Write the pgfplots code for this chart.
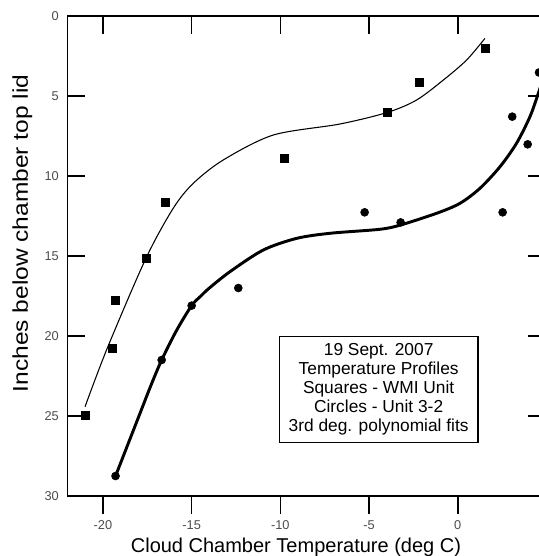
\documentclass[border=0pt]{standalone}
\usepackage{fontspec}
\setmainfont{Liberation Sans}
\usepackage{pgfplots}
\pgfplotsset{compat=1.18}

% measured data (squares = WMI unit, circles = unit 3-2)
\pgfplotstableread{
x y
-21.01 24.98
-19.49 20.77
-19.29 17.75
-17.58 15.15
-16.49 11.64
-9.78 8.90
-3.95 6.02
-2.15 4.15
1.57 2.02
}\squares
\pgfplotstableread{
x y
-19.29 28.75
-16.69 21.50
-15.00 18.10
-12.37 17.00
-5.25 12.27
-3.22 12.90
2.53 12.27
3.07 6.29
3.94 8.02
4.58 3.53
}\circles
% 3rd degree fits
\pgfplotstableread{
x y
-21.01 24.42
-19.76 20.77
-17.58 15.15
-16.04 12.02
-14.91 10.46
-13.22 9.00
-10.40 7.44
-6.64 6.75
-3.95 6.02
-2.32 5.25
-0.81 4.00
0.50 2.75
1.53 1.40
}\fitsq
\pgfplotstableread{
x y
-19.29 28.75
-17.91 24.83
-17.30 23.10
-16.69 21.50
-15.85 19.65
-15.00 18.10
-14.50 17.52
-14.00 17.00
-12.84 15.98
-10.97 14.63
-9.09 13.90
-7.20 13.58
-4.39 13.33
-3.22 13.06
-1.19 12.33
0.12 11.71
1.25 10.77
2.38 9.42
3.31 7.96
4.07 6.29
4.54 4.83
5.00 3.30
}\fitci

\begin{document}
\begin{tikzpicture}
\pgfplotsset{
  common/.style={
    scale only axis, width=359.25pt, height=360pt,
    xmin=-22, xmax=5, ymin=0, ymax=30, y dir=reverse,
    xtick={-20,-15,-10,-5,0}, ytick={0,5,...,30},
    major tick length=13.5pt,
    tick style={line width=1.1pt, black},
  }
}
\begin{axis}[common, name=ax,
  axis line style={line width=1.1pt},
  tick align=inside,
  xtick pos=right, xticklabel pos=left,
  ytick pos=both, yticklabel pos=left,
  /pgf/number format/assume math mode=true,
  ticklabel style={font=\fontsize{9.6}{11}\selectfont, text=black!70},
  xticklabel style={yshift=-17.5pt, inner sep=1pt},
  yticklabel style={xshift=-3pt},
  xlabel={Cloud Chamber Temperature (deg C)},
  ylabel={\scalebox{1.15}[1]{Inches below chamber top lid}},
  xlabel style={font=\fontsize{15}{17}\selectfont, at={(rel axis cs:0.477,-0.106)}, anchor=center, inner sep=1pt},
  ylabel style={font=\fontsize{16}{18}\selectfont, at={(rel axis cs:-0.094,0.547)}, anchor=center},
]
\addplot[black, line width=0.8pt, smooth, no marks] table {\fitsq};
\addplot[black, line width=2.2pt, smooth, no marks] table {\fitci};
\addplot[only marks, mark=square*, mark size=3pt, black] table {\squares};
\addplot[only marks, mark=*, mark size=3pt, black] table {\circles};
\node[draw, line width=0.8pt, align=center, minimum width=149pt, minimum height=79pt,
  inner sep=1pt, font=\fontsize{13}{14.2}\selectfont] at (axis cs:-4.46,23.34)
  {19 Sept. 2007\\Temperature Profiles\\ Squares - WMI Unit\\Circles - Unit 3-2\\3rd deg. polynomial fits};
\end{axis}
\begin{axis}[common,
  axis line style={draw=none},
  xtick pos=left, xtick align=outside, xticklabels={,,,,},
  ytick=\empty,
]
\end{axis}
\pgfresetboundingbox
\path[use as bounding box] (-50.6pt,-45pt) rectangle (353.6pt,372pt);
\end{tikzpicture}
\end{document}
